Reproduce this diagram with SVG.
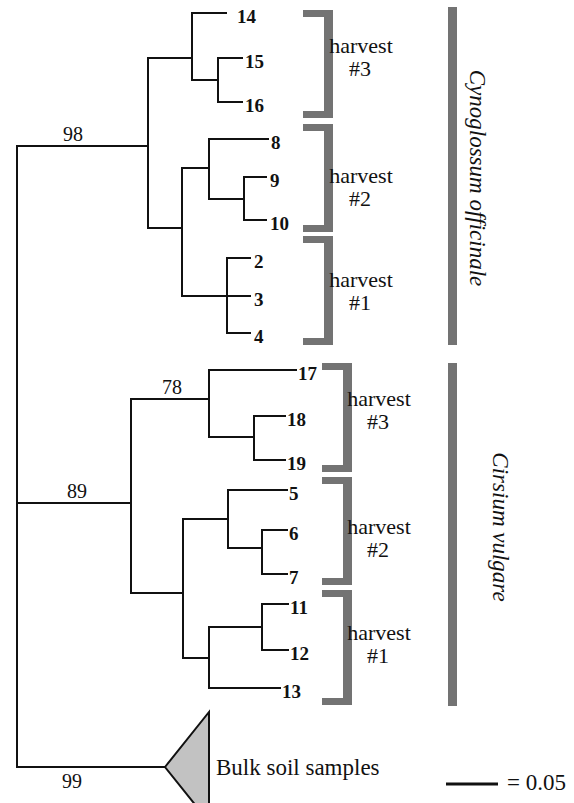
<svg xmlns="http://www.w3.org/2000/svg" width="574" height="803" viewBox="0 0 574 803">
<style>
.t{fill:none;stroke:#111;stroke-width:2;stroke-linecap:square}
text{font-family:'Liberation Serif','Times New Roman','DejaVu Serif',serif;fill:#111}
.leaf{font-weight:bold;font-size:19px}
.bs{font-size:20px;text-anchor:middle}
.hv{font-size:22px;text-anchor:middle}
.st{font-size:23px}
.sp{font-style:italic;font-size:23px;text-anchor:middle}
.br{fill:#737373}
</style>
<rect width="574" height="803" fill="#fff"/>
<g id="connectors">
<path class="t" d="M17,146 V767 M17,146 H148 M148,58 V228 M148,58 H192 M192,13 V80 M192,13 H226 M192,80 H218 M218,58 V102 M218,58 H242 M218,102 H242 M148,228 H182 M182,168 V296 M182,168 H209 M209,139 V199 M209,139 H268 M209,199 H244 M244,177 V220 M244,177 H266 M244,220 H266 M182,296 H250 M227,258 V333 M227,258 H250 M227,333 H250"/>
<path class="t" d="M17,503 H131 M131,399 V593 M131,399 H209 M209,370 V437 M209,370 H296 M209,437 H254 M254,416 V460 M254,416 H285 M254,460 H285 M131,593 H183 M183,519 V658 M183,519 H228 M228,490 V548 M228,490 H287 M228,548 H262 M262,530 V574 M262,530 H287 M262,574 H287 M183,658 H209 M209,627 V688 M209,627 H262 M262,604 V650 M262,604 H288 M262,650 H288 M209,688 H280"/>
<path class="t" d="M17,767 H165"/>
</g>
<g id="bootstrap">
<text class="bs" x="73" y="141">98</text>
<text class="bs" x="172" y="394">78</text>
<text class="bs" x="77" y="498">89</text>
<text class="bs" x="72" y="788">99</text>
</g>
<g id="leaves">
<g id="leaf14"><text class="leaf" x="237" y="23">14</text></g>
<g id="leaf15"><text class="leaf" x="245" y="68">15</text></g>
<g id="leaf16"><text class="leaf" x="245" y="112">16</text></g>
<g id="leaf8"><text class="leaf" x="271" y="149">8</text></g>
<g id="leaf9"><text class="leaf" x="270" y="187">9</text></g>
<g id="leaf10"><text class="leaf" x="270" y="230">10</text></g>
<g id="leaf2"><text class="leaf" x="254" y="268">2</text></g>
<g id="leaf3"><text class="leaf" x="254" y="306">3</text></g>
<g id="leaf4"><text class="leaf" x="254" y="343">4</text></g>
<g id="leaf17"><text class="leaf" x="298" y="380">17</text></g>
<g id="leaf18"><text class="leaf" x="287" y="426">18</text></g>
<g id="leaf19"><text class="leaf" x="287" y="470">19</text></g>
<g id="leaf5"><text class="leaf" x="289" y="500">5</text></g>
<g id="leaf6"><text class="leaf" x="289" y="540">6</text></g>
<g id="leaf7"><text class="leaf" x="289" y="584">7</text></g>
<g id="leaf11"><text class="leaf" x="290" y="614">11</text></g>
<g id="leaf12"><text class="leaf" x="290" y="660">12</text></g>
<g id="leaf13"><text class="leaf" x="282" y="698">13</text></g>
</g>
<g id="bulk">
<polygon points="165,767 209,712 209,822" fill="#c2c2c2" stroke="#111" stroke-width="2"/>
<text class="st" x="216" y="775">Bulk soil samples</text>
</g>
<g id="co-h3"><path class="br" d="M303,10 H333 V118 H303 V111 H324 V17 H303 Z"/><text class="hv" x="361" y="53">harvest</text><text class="hv" x="360" y="76">#3</text></g>
<g id="co-h2"><path class="br" d="M303,124 H333 V232 H303 V225 H324 V131 H303 Z"/><text class="hv" x="361" y="183">harvest</text><text class="hv" x="360" y="206">#2</text></g>
<g id="co-h1"><path class="br" d="M303,236 H333 V345 H303 V338 H324 V243 H303 Z"/><text class="hv" x="361" y="287">harvest</text><text class="hv" x="360" y="310">#1</text></g>
<g id="cv-h3"><path class="br" d="M322,363 H352 V472 H322 V465 H343 V370 H322 Z"/><text class="hv" x="379" y="406">harvest</text><text class="hv" x="378" y="429">#3</text></g>
<g id="cv-h2"><path class="br" d="M322,477 H352 V585 H322 V578 H343 V484 H322 Z"/><text class="hv" x="379" y="534">harvest</text><text class="hv" x="378" y="557">#2</text></g>
<g id="cv-h1"><path class="br" d="M322,590 H352 V705 H322 V698 H343 V597 H322 Z"/><text class="hv" x="379" y="640">harvest</text><text class="hv" x="378" y="663">#1</text></g>
<g id="cynoglossum"><rect class="br" x="448" y="7" width="9" height="338"/><text class="sp" transform="translate(470,178) rotate(90)">Cynoglossum officinale</text></g>
<g id="cirsium"><rect class="br" x="448" y="363" width="9" height="343"/><text class="sp" transform="translate(493,527) rotate(90)">Cirsium vulgare</text></g>
<g id="scale"><line x1="446" y1="784" x2="498" y2="784" stroke="#111" stroke-width="3"/><text class="st" x="507" y="790">= 0.05</text></g>
</svg>
